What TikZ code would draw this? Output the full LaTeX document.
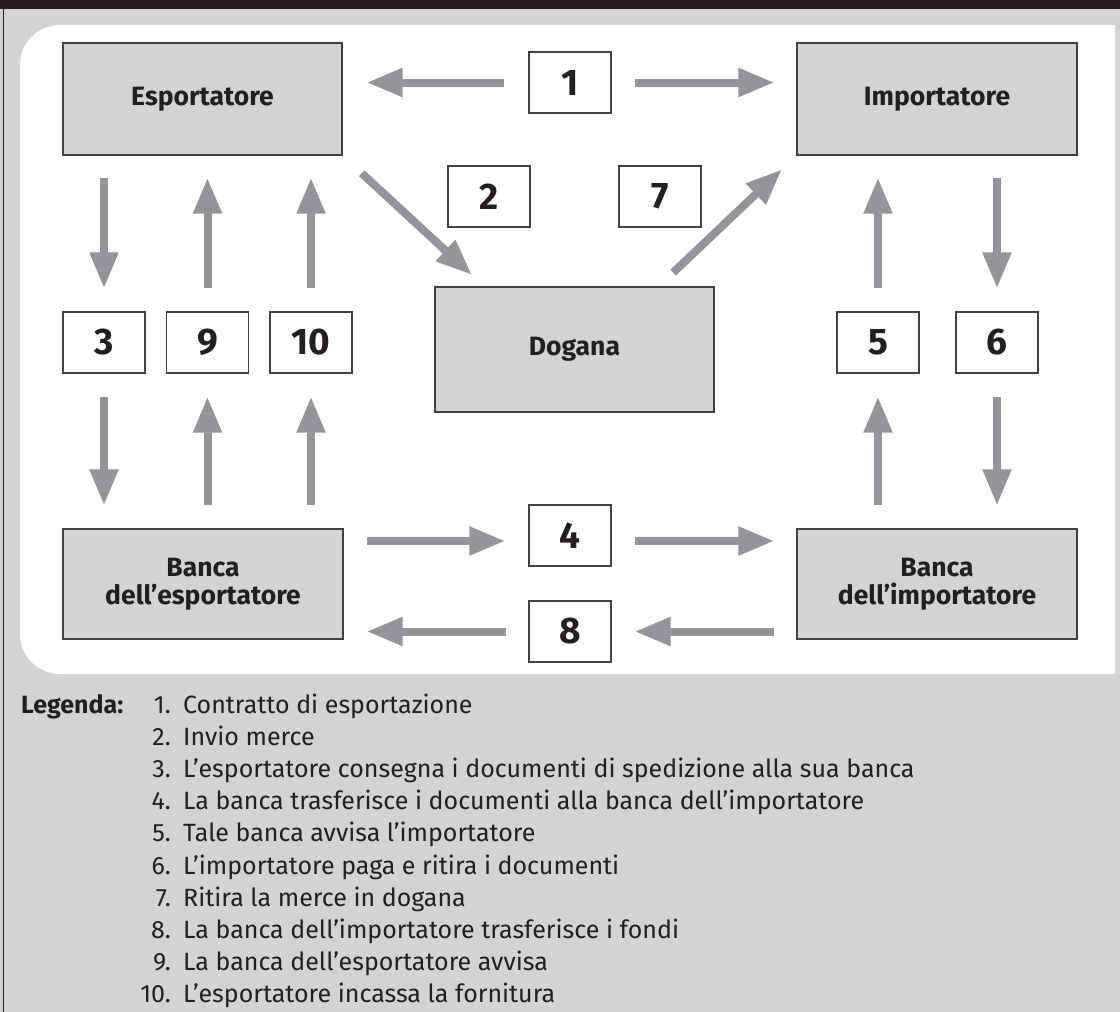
\documentclass[tikz,border=0pt]{standalone}
\usepackage{fontspec}
\setmainfont{Fira Sans}
\usetikzlibrary{arrows.meta,calc}
\definecolor{bggray}{HTML}{D1D3D4}
\definecolor{boxgray}{HTML}{D1D3D4}
\definecolor{inkdark}{HTML}{231F20}
\definecolor{edgedark}{HTML}{414042}
\definecolor{arrowgray}{HTML}{939598}
\tikzset{
  bigbox/.style={draw=edgedark, line width=1.2pt, fill=boxgray, minimum width=279pt, minimum height=112pt, inner sep=0pt, align=center, text=inkdark, font=\fontsize{26.5}{28}\selectfont\bfseries},
  numbox/.style={draw=edgedark, line width=1.2pt, fill=white, minimum width=82pt, minimum height=61pt, inner sep=0pt, text=inkdark, font=\fontsize{37}{40}\selectfont\bfseries},
  flow/.style={draw=arrowgray, line width=8pt, -{Triangle[length=36pt,width=27pt]}},
  legnum/.style={anchor=base east, inner sep=0pt, text=inkdark, font=\fontsize{25}{28}\selectfont},
  legtext/.style={anchor=base west, inner sep=0pt, text=inkdark, font=\fontsize{25}{28}\selectfont}
}
\begin{document}
\begin{tikzpicture}[x=1pt,y=-1pt]
\useasboundingbox (0,0) rectangle (1120,1012);
% background
\fill[bggray] (0,0) rectangle (1120,1012);
\fill[inkdark] (0,0) rectangle (1120,9);
\draw[inkdark, line width=1.2pt] (3.5,9) -- (3.5,1012);
\begin{scope}
  \clip (0,0) rectangle (1115,1012);
  \fill[white, rounded corners=40pt] (20,25) rectangle (1200,674);
\end{scope}
% main boxes
\node[bigbox] (esp) at (202.5,99) {Esportatore};
\node[bigbox, minimum width=280pt] (imp) at (937,99) {Importatore};
\node[bigbox, minimum height=125pt] (dog) at (574.5,349.5) {Dogana};
\node[bigbox, minimum width=280pt, minimum height=110pt] (bex) at (203,584) {Banca\\dell’esportatore};
\node[bigbox, minimum width=280pt, minimum height=110pt] (bim) at (937,584) {Banca\\dell’importatore};
% number boxes
\node[numbox] (n1) at (570,82.5) {1};
\node[numbox] (n2) at (489,196.5) {2};
\node[numbox] (n7) at (660,196.5) {7};
\node[numbox] (n3) at (104,342.5) {3};
\node[numbox] (n9) at (207.5,342.5) {9};
\node[numbox] (n10) at (311,342.5) {10};
\node[numbox] (n5) at (878,342.5) {5};
\node[numbox] (n6) at (997,342.5) {6};
\node[numbox] (n4) at (570,535.5) {4};
\node[numbox] (n8) at (570,631.5) {8};
% helper coordinates
\coordinate (a4w) at ($(n4.west)+(0,5.5)$);
\coordinate (a4e) at ($(n4.east)+(0,5.5)$);
\coordinate (d2) at ($(dog.north west)+(50,0)$);
\coordinate (d7) at ($(dog.north east)+(-56,0)$);
% step 1
\draw[flow, shorten <=24pt, shorten >=24pt] (n1.west) -- (esp.east |- n1);
\draw[flow, shorten <=23pt, shorten >=22pt] (n1.east) -- (imp.west |- n1);
% step 2 and 7
\draw[flow, shorten <=26pt, shorten >=17pt] (esp.south east) -- (d2);
\draw[flow, shorten <=20pt, shorten >=20pt] (d7) -- (imp.south west);
% left column
\draw[flow, shorten <=22pt, shorten >=23pt] (esp.south -| n3) -- (n3.north);
\draw[flow, shorten <=23pt, shorten >=23pt] (n3.south) -- (bex.north -| n3);
\draw[flow, shorten <=23pt, shorten >=22pt] (n9.north) -- (esp.south -| n9);
\draw[flow, shorten <=23pt, shorten >=23pt] (bex.north -| n9) -- (n9.south);
\draw[flow, shorten <=23pt, shorten >=22pt] (n10.north) -- (esp.south -| n10);
\draw[flow, shorten <=23pt, shorten >=23pt] (bex.north -| n10) -- (n10.south);
% right column
\draw[flow, shorten <=23pt, shorten >=22pt] (n5.north) -- (imp.south -| n5);
\draw[flow, shorten <=23pt, shorten >=23pt] (bim.north -| n5) -- (n5.south);
\draw[flow, shorten <=22pt, shorten >=23pt] (imp.south -| n6) -- (n6.north);
\draw[flow, shorten <=23pt, shorten >=23pt] (n6.south) -- (bim.north -| n6);
% bottom
\draw[flow, shorten <=23pt, shorten >=23pt] (bex.east |- a4w) -- (a4w);
\draw[flow, shorten <=23pt, shorten >=22pt] (a4e) -- (bim.west |- a4e);
\draw[flow, shorten <=22pt, shorten >=23pt] (n8.west) -- (bex.east |- n8);
\draw[flow, shorten <=22pt, shorten >=23pt] (bim.west |- n8) -- (n8.east);
% legend
\node[legtext, font=\fontsize{25}{28}\selectfont\bfseries] (leg) at (21,713) {Legenda:};
\node[legnum] (l1) at (171,713) {1.};
\node[legtext] (t1) at (183,713) {Contratto di esportazione};
\node[legnum] (l2) at (171,745.2) {2.};
\node[legtext] (t2) at (183,745.2) {Invio merce};
\node[legnum] (l3) at (171,777.4) {3.};
\node[legtext] (t3) at (183,777.4) {L’esportatore consegna i documenti di spedizione alla sua banca};
\node[legnum] (l4) at (171,809.6) {4.};
\node[legtext] (t4) at (183,809.6) {La banca trasferisce i documenti alla banca dell’importatore};
\node[legnum] (l5) at (171,841.8) {5.};
\node[legtext] (t5) at (183,841.8) {Tale banca avvisa l’importatore};
\node[legnum] (l6) at (171,874) {6.};
\node[legtext] (t6) at (183,874) {L’importatore paga e ritira i documenti};
\node[legnum] (l7) at (171,906.2) {7.};
\node[legtext] (t7) at (183,906.2) {Ritira la merce in dogana};
\node[legnum] (l8) at (171,938.4) {8.};
\node[legtext] (t8) at (183,938.4) {La banca dell’importatore trasferisce i fondi};
\node[legnum] (l9) at (171,970.6) {9.};
\node[legtext] (t9) at (183,970.6) {La banca dell’esportatore avvisa};
\node[legnum] (l10) at (171,1002.8) {10.};
\node[legtext] (t10) at (183,1002.8) {L’esportatore incassa la fornitura};
\end{tikzpicture}
\end{document}
